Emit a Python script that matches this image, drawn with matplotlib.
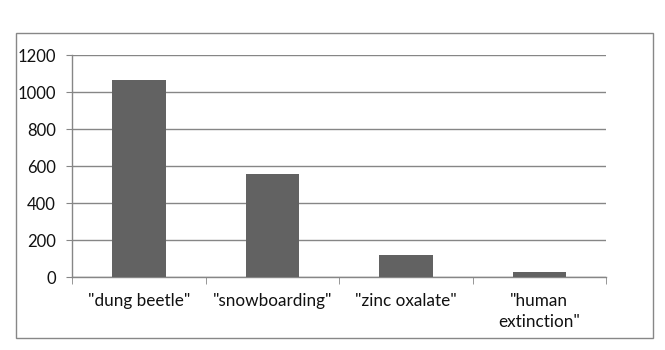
import matplotlib
matplotlib.use("Agg")
import matplotlib.pyplot as plt
from matplotlib.patches import Rectangle

categories = ['"dung beetle"', '"snowboarding"', '"zinc oxalate"', '"human\nextinction"']
values = [1066, 558, 120, 28]
y_ticks = [0, 200, 400, 600, 800, 1000, 1200]

plt.rcParams["font.family"] = ["Lato", "DejaVu Sans"]

W, H = 665, 350
fig = plt.figure(figsize=(W / 100, H / 100), dpi=100)

# chart border
fig.patches.append(Rectangle((16 / W, 1 - 337.5 / H), (653 - 16) / W, (337.5 - 32.7) / H,
                             transform=fig.transFigure, fill=False,
                             edgecolor="#878787", linewidth=1.0))

ax = fig.add_axes([72.3 / W, 1 - 277.3 / H, (606 - 72.3) / W, (277.3 - 55.3) / H])

grid_color = "#868686"
x = range(len(categories))
ax.bar(x, values, width=0.4, color="#626262", zorder=3)

ax.set_xlim(-0.5, len(categories) - 0.5)
ax.set_ylim(0, 1200)
ax.set_yticks(y_ticks)
ax.set_yticklabels([str(v) for v in y_ticks])
ax.yaxis.grid(True, color=grid_color, linewidth=1.0, zorder=0)

ax.set_xticks(list(x))
ax.set_xticklabels(categories, fontsize=12.3, color="#111111", linespacing=1.4)
ax.set_xticks([i - 0.5 for i in range(len(categories) + 1)], minor=True)
ax.tick_params(axis="x", which="major", length=0, pad=11)
ax.tick_params(axis="x", which="minor", length=5, color=grid_color, direction="out")
ax.tick_params(axis="y", length=4.5, color=grid_color, pad=7.5, labelsize=12,
               labelcolor="#111111")

for side in ("top", "right"):
    ax.spines[side].set_visible(False)
for side in ("left", "bottom"):
    ax.spines[side].set_color(grid_color)
    ax.spines[side].set_linewidth(1.0)

fig.savefig("out.png", dpi=100)
